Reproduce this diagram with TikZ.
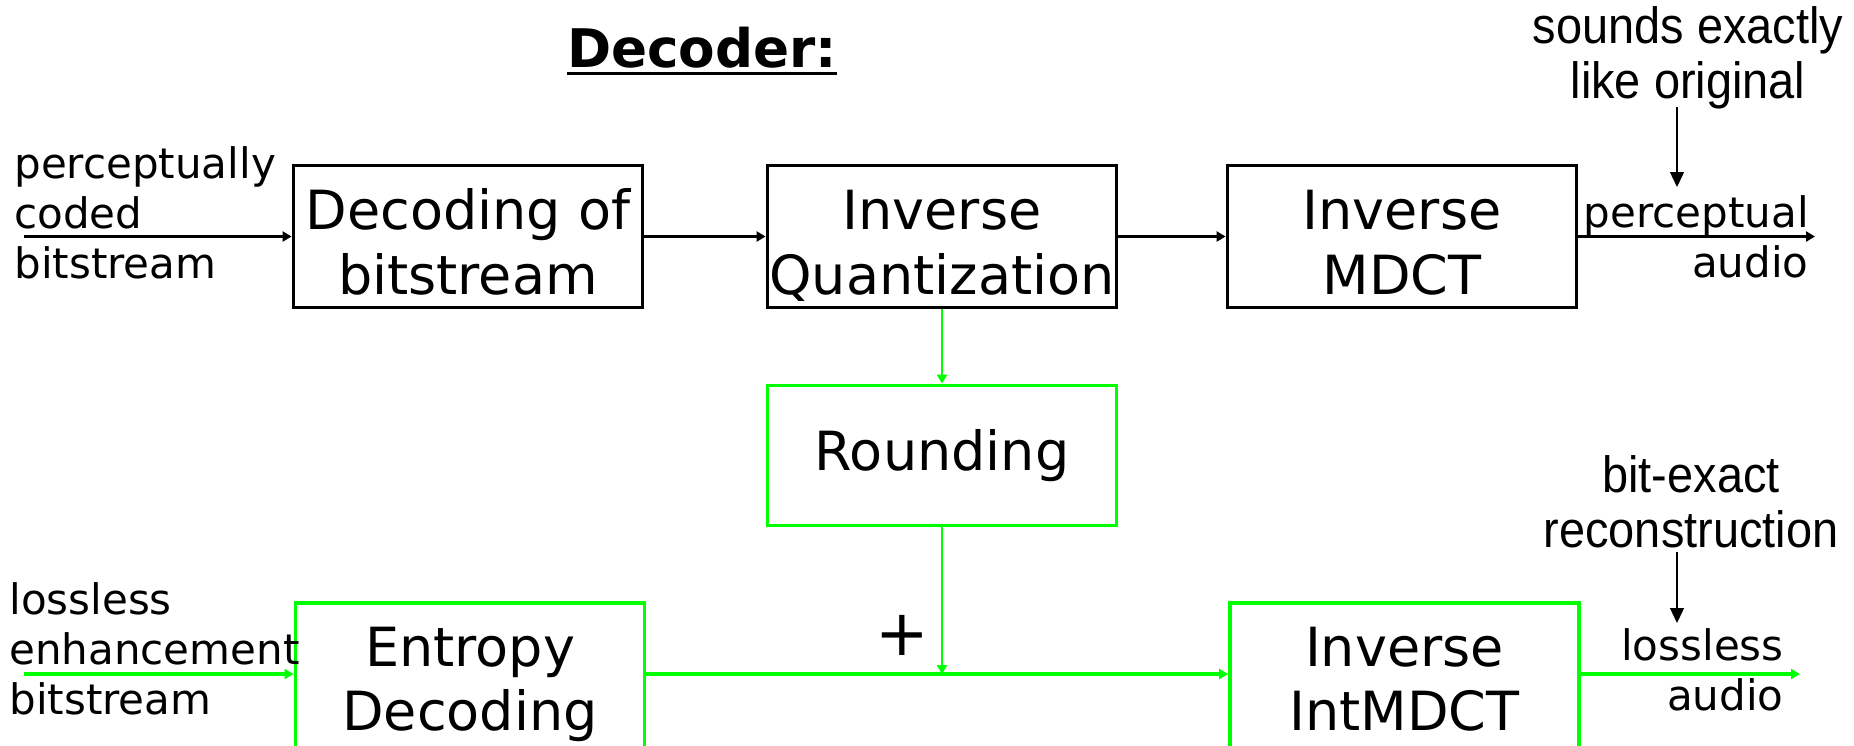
\documentclass[tikz,border=0pt]{standalone}
\usepackage{fontspec}
\setmainfont{DejaVu Sans}
\newfontfamily\notefont[FakeStretch=0.92]{Liberation Sans}
\usetikzlibrary{arrows.meta}
\definecolor{lgreen}{RGB}{0,255,0}
\renewcommand{\arraystretch}{1.04}
% two centred lines, set on a zero-size box so the shift is kept
\newcommand{\twolines}[3][-12.6pt]{\raisebox{#1}[0pt][0pt]{\begin{tabular}{@{}c@{}}#2\\#3\end{tabular}}}
\begin{document}
\begin{tikzpicture}[x=0.5pt,y=-0.5pt,
  blockbox/.style={draw,line width=1.9pt,rectangle,minimum width=174.5pt,
    minimum height=71pt,align=center,inner sep=0pt,
    font=\fontsize{27}{31}\selectfont},
  greenbox/.style={blockbox,draw=lgreen},
  flow/.style={line width=1.6pt,-{Triangle[length=4.5pt,width=5pt]}},
  gflow/.style={flow,draw=lgreen,fill=lgreen},
  label/.style={inner sep=0pt,font=\fontsize{21}{25}\selectfont},
  note/.style={inner sep=0pt,align=center,font=\notefont\fontsize{25.5}{27.5}\selectfont},
  notearrow/.style={line width=0.7pt,-{Triangle[length=7.5pt,width=7pt]}}]
\useasboundingbox (0,0) rectangle (1854,745);
\clip (0,0) rectangle (1854,745);

% title
\node[inner sep=0pt,anchor=base,font=\bfseries\fontsize{26.6}{30}\selectfont] (title) at (702,67) {Decoder:};
\draw[line width=1.5pt] ([yshift=-3pt]title.base west) -- ([yshift=-3pt]title.base east);

% perceptual path
\node[blockbox] (dec) at (468,236.5) {\twolines{Decoding of}{bitstream}};
\node[blockbox] (iq) at (942,236.5) {\twolines{Inverse}{Quantization}};
\node[blockbox] (imdct) at (1402,236.5) {\twolines{Inverse}{MDCT}};

% lossless path
\node[greenbox,minimum height=70pt] (round) at (942,455.5) {Rounding};
\node[greenbox,minimum height=75pt] (ent) at (470,678) {\twolines[-10pt]{Entropy}{Decoding}};
\node[greenbox,minimum height=75pt] (intm) at (1404.5,678) {\twolines[-10pt]{Inverse}{IntMDCT}};

\coordinate (in1) at (24,236.5);
\coordinate (out1) at (1815,236.5);
\coordinate (in2) at (24,674);
\coordinate (out2) at (1800,674);
\coordinate (sum) at (942,674);

\draw[flow] (in1) -- (dec.west);
\draw[flow] (dec.east) -- (iq.west);
\draw[flow] (iq.east) -- (imdct.west);
\draw[flow] (imdct.east) -- (out1);

\draw[gflow,line width=1.4pt] (iq.south) -- (round.north);
\draw[gflow,line width=1.4pt] (round.south) -- (sum);
\draw[gflow,line width=1.8pt] (in2) -- (ent.west |- in2);
\draw[gflow,line width=1.8pt] (ent.east |- sum) -- (intm.west |- sum);
\draw[gflow,line width=1.8pt] (intm.east |- out2) -- (out2);

\node[font=\fontsize{32}{32}\selectfont,inner sep=0pt] (plus) at (902,635) {+};

% side labels
\node[label,align=left,anchor=west] (lin1) at (14,213) {perceptually\\coded\\bitstream};
\node[label,align=left,anchor=west] (lin2) at (9,649) {lossless\\enhancement\\bitstream};
\node[label,align=right,anchor=east] (lout1) at (1809,237) {perceptual\\audio};
\node[label,align=right,anchor=east] (lout2) at (1784,670) {lossless\\audio};

% remarks
\node[note] (snd) at (1688,58) {sounds exactly\\like original};
\node[note] (bit) at (1691,502) {bit-exact\\reconstruction};
\coordinate (a1s) at (1677,107);
\coordinate (a1e) at (1677,187);
\coordinate (a2s) at (1677,552);
\coordinate (a2e) at (1677,623);
\draw[notearrow] (a1s) -- (a1e);
\draw[notearrow] (a2s) -- (a2e);
\end{tikzpicture}
\end{document}
